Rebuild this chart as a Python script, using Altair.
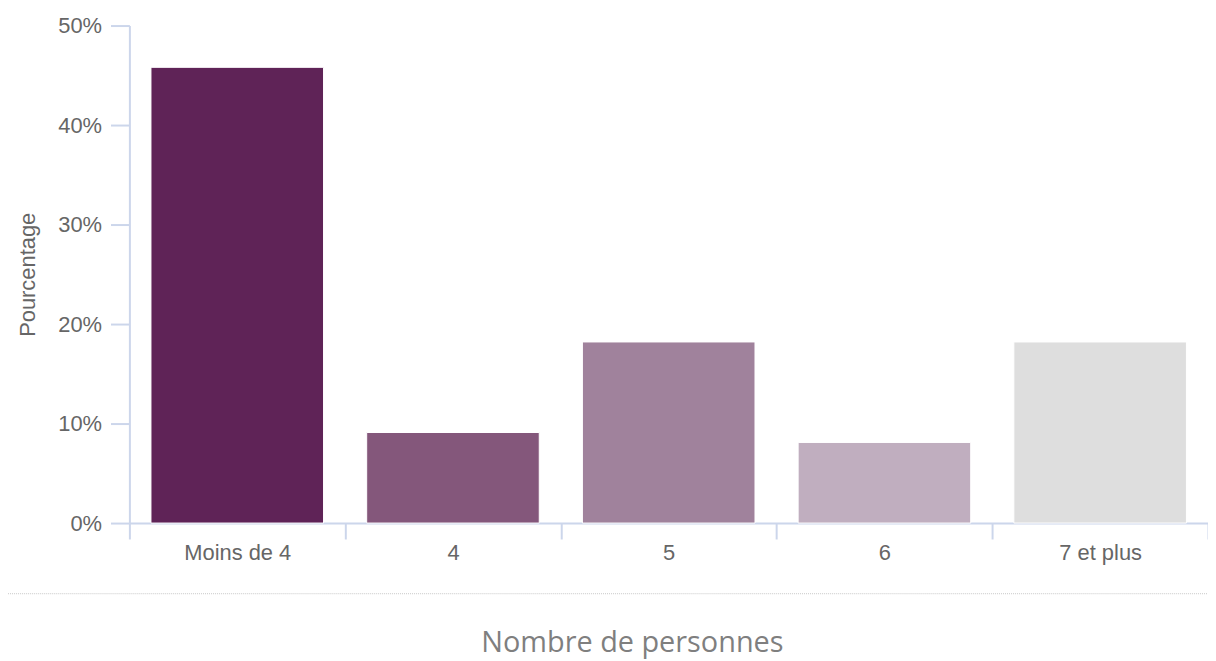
import altair as alt
import pandas as pd

categories = ["Moins de 4", "4", "5", "6", "7 et plus"]
values = [45.8, 9.1, 18.2, 8.1, 18.2]
colors = ["#5f2357", "#84577b", "#a0829c", "#c0aebf", "#dedede"]
y_ticks = [0, 10, 20, 30, 40, 50]

df = pd.DataFrame({"cat": categories, "val": values, "col": colors})

AX = "#ccd6eb"
LAB = "#666666"

bars = alt.Chart(df).mark_bar(stroke="white", strokeWidth=1,
                              width=alt.RelativeBandSize(0.8)).encode(
    x=alt.X("cat:N", sort=categories,
            scale=alt.Scale(paddingInner=0, paddingOuter=0),
            axis=alt.Axis(title="Nombre de personnes", labelAngle=0,
                          labelFont="Liberation Sans", labelFontSize=22,
                          labelColor=LAB, labelPadding=4,
                          tickBand="extent", tickSize=16, tickColor=AX,
                          tickWidth=2, domainColor=AX, domainWidth=2,
                          titleFont="Open Sans", titleFontSize=29,
                          titleFontWeight="normal", titleColor="#7f7f7f",
                          titleX=505, titleY=129, titleAlign="center",
                          titleBaseline="alphabetic", grid=False)),
    y=alt.Y("val:Q", scale=alt.Scale(domain=[0, 50], nice=False),
            axis=alt.Axis(title="Pourcentage", values=y_ticks,
                          labelExpr="datum.value + '%'",
                          labelFont="Liberation Sans", labelFontSize=22,
                          labelColor=LAB, labelPadding=9,
                          tickSize=19, tickColor=AX, tickWidth=2,
                          domainColor=AX, domainWidth=2,
                          titleFont="Liberation Sans", titleFontSize=22,
                          titleFontWeight="normal", titleColor=LAB,
                          titleX=-95, titleY=250, titleAngle=-90,
                          titleAlign="center", titleBaseline="alphabetic",
                          grid=False)),
    color=alt.Color("col:N", scale=None, legend=None),
)

sep = alt.Chart(pd.DataFrame({"a": [0]})).mark_rule(
    color="#c8c8c8", strokeDash=[1, 1], strokeWidth=1
).encode(x=alt.value(-122), x2=alt.value(1084), y=alt.value(571))

chart = alt.layer(bars, sep).properties(
    width=1084, height=500,
    autosize=alt.AutoSizeParams(type="none"),
    padding={"left": 122, "top": 16, "right": 0, "bottom": 138},
).configure_view(stroke=None)

chart.save("out.html", embed_options={"renderer": "svg", "actions": False})
